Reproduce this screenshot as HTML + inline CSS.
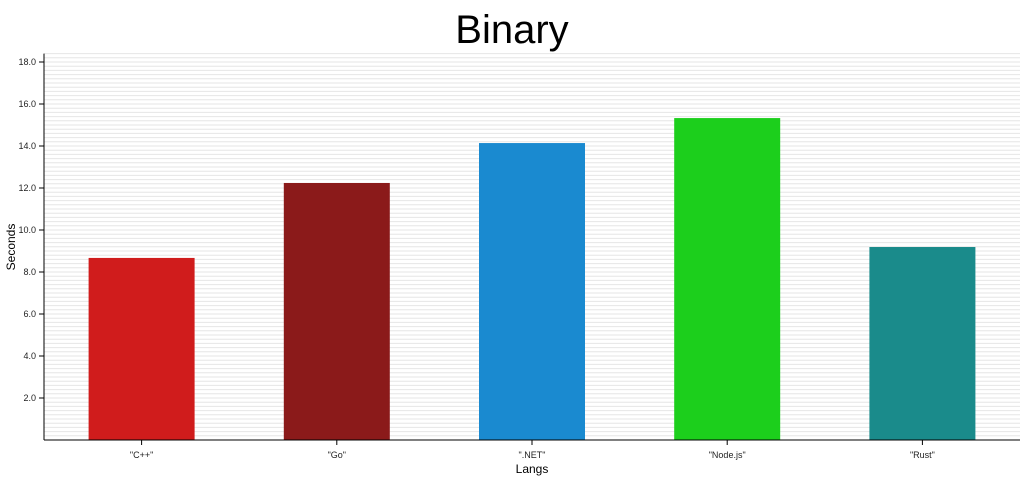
<!DOCTYPE html>
<html><head><meta charset="utf-8"><style>
body{margin:0;background:#fff;}
svg{display:block;font-family:"Liberation Sans",sans-serif;}
</style></head><body>
<svg id="c" width="1024" height="480">
<text x="512" y="43" text-anchor="middle" font-size="40" fill="#000">Binary</text>
<g id="grid"></g>
<g id="bars"></g>
<g id="axes"></g>
<text x="532" y="473" text-anchor="middle" font-size="12">Langs</text>
<text transform="translate(15,247) rotate(-90)" text-anchor="middle" font-size="12">Seconds</text>
</svg>
<script>
const categories = ['"C++"','"Go"','".NET"','"Node.js"','"Rust"'];
const values = [8.67, 12.24, 14.14, 15.33, 9.19];
const colors = ['#d01c1c','#8b1a1a','#1a8ad0','#1ccf1c','#1a8b8b'];
const yTicks = [2,4,6,8,10,12,14,16,18];
const ns='http://www.w3.org/2000/svg';
const X0=44,X1=1020,Y0=440,PX=21,YMAX=18.4;
const y=v=>Y0-v*PX;
const band=(X1-X0)/categories.length;
const xc=i=>X0+band*(i+0.5);
function mk(t,a,p){const e=document.createElementNS(ns,t);for(const k in a)e.setAttribute(k,a[k]);p.appendChild(e);return e;}
const grid=document.getElementById('grid'),bars=document.getElementById('bars'),axes=document.getElementById('axes');
for(let k=1;k*0.2<=YMAX+1e-9;k++){
  const l=mk('line',{x1:X0,x2:X1,y1:y(k*0.2),y2:y(k*0.2),stroke:'#e6e6e6','stroke-width':1},grid);
  
  
}
values.forEach((v,i)=>{
  const r=mk('rect',{x:xc(i)-53,y:y(v),width:106,height:v*PX,fill:colors[i]},bars);
  
  
  const t=mk('line',{x1:xc(i),x2:xc(i),y1:Y0,y2:Y0+5,stroke:'#000'},axes);
  
  
  const tx=mk('text',{x:xc(i),y:Y0+18,'text-anchor':'middle','font-size':9,fill:'#222'},axes);
  tx.textContent=categories[i];
  
  
});
yTicks.forEach(v=>{
  const t=mk('line',{x1:X0-5,x2:X0,y1:y(v),y2:y(v),stroke:'#000'},axes);
  
  
  const tx=mk('text',{x:X0-8,y:y(v)+3,'text-anchor':'end','font-size':9,fill:'#222'},axes);
  tx.textContent=v.toFixed(1);
  
  
});
const ya=mk('line',{x1:X0,x2:X0,y1:y(YMAX),y2:Y0,stroke:'#000'},axes);


const xa=mk('line',{x1:X0,x2:X1,y1:Y0,y2:Y0,stroke:'#000'},axes);


</script>
</body></html>
